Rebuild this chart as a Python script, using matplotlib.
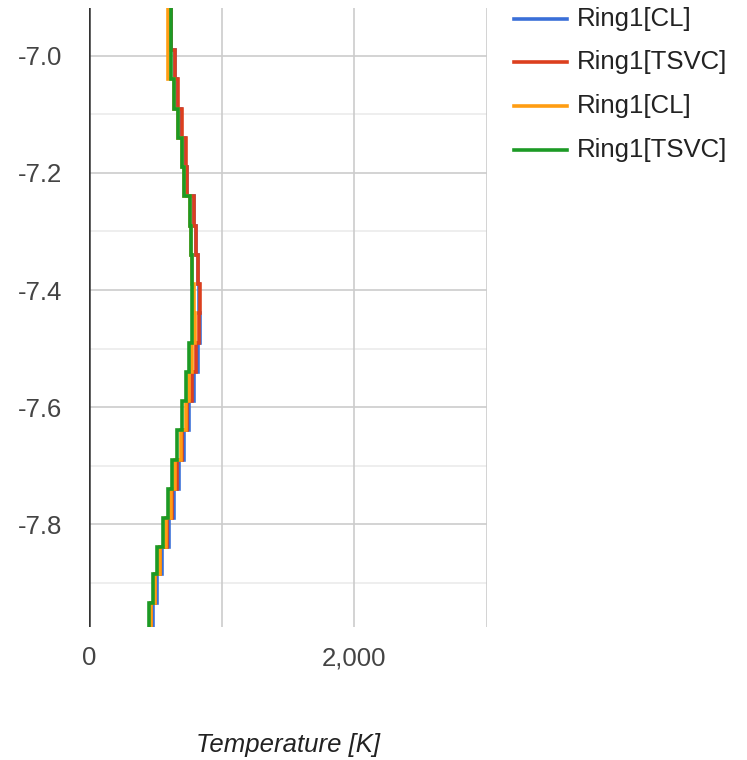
import numpy as np
import matplotlib.pyplot as plt

plt.rcParams['font.family'] = ['Liberation Sans', 'DejaVu Sans']

# depth cell edges (top -> bottom) and cell temperatures [K]
depth_edges = [-6.90, -6.99, -7.04, -7.09, -7.14, -7.19, -7.24, -7.29, -7.34, -7.39, -7.44,
               -7.49, -7.54, -7.59, -7.64, -7.69, -7.74, -7.79, -7.84, -7.885, -7.935, -7.985]
cl_a   = [621, 645, 667, 697, 727, 736, 788, 803, 822, 830, 838,
          820, 790, 755, 715, 675, 640, 600, 550, 515, 485]
tsvc_a = [621, 647, 669, 699, 729, 738, 790, 805, 825, 835, 830,
          805, 775, 740, 700, 660, 625, 585, 535, 500, 470]
cl_b   = [594, 594, 639, 672, 700, 714, 758, 767, 780, 790, 800,
          778, 755, 728, 690, 652, 620, 582, 533, 500, 470]
tsvc_b = [621, 621, 639, 672, 702, 714, 760, 767, 778, 778, 778,
          750, 728, 703, 664, 627, 597, 559, 509, 479, 451]

series = [cl_a, tsvc_a, cl_b, tsvc_b]
names = ["Ring1[CL]", "Ring1[TSVC]", "Ring1[CL]", "Ring1[TSVC]"]
colors = ["#3a6fd8", "#dc3f1e", "#ff9d12", "#1c9a25"]

y_major = [-7.8, -7.6, -7.4, -7.2, -7.0]
y_minor = [-7.9, -7.7, -7.5, -7.3, -7.1]
x_grid = [1000, 2000, 3000]
x_labeled = [0, 2000]

W, H = 747, 760
fig = plt.figure(figsize=(W / 100, H / 100), dpi=100)
ax = fig.add_axes([89 / W, 1 - 627 / H, (487 - 89) / W, (627 - 8) / H])

edges = np.array(depth_edges)
zz = np.column_stack([edges[:-1], edges[1:]]).ravel()
for temps, col, name in zip(series, colors, names):
    ax.plot(np.repeat(temps, 2), zz, color=col, lw=2.6, label=name,
            solid_joinstyle='miter', zorder=3)

ax.set_xlim(0, 3000)
ax.set_ylim(-7.976, -6.918)

# grid
for y in y_major:
    ax.axhline(y, color="#cccccc", lw=1.2, zorder=1)
for y in y_minor:
    ax.axhline(y, color="#ebebeb", lw=1.2, zorder=1)
for x in x_grid:
    ax.axvline(x, color="#cccccc", lw=1.2, zorder=1)
ax.axvline(0, color="#333333", lw=1.8, zorder=2)

for s in ax.spines.values():
    s.set_visible(False)

ax.set_yticks(y_major)
ax.set_yticklabels(["%.1f" % v for v in y_major])
ax.set_xticks(x_labeled)
ax.set_xticklabels(["0", "2,000"])
ax.tick_params(axis='both', length=0, labelsize=18.5, colors="#444444")
ax.tick_params(axis='y', pad=19)
ax.tick_params(axis='x', pad=14)

fig.text(288 / W, 1 - 745 / H, "Temperature [K]", style='italic', fontsize=18.5,
         color="#222222", ha='center', va='center')

# legend
rows = [19, 62, 106, 150]
for yr, col, name in zip(rows, colors, names):
    fig.add_artist(plt.Line2D([514 / W, 567 / W], [1 - yr / H, 1 - yr / H],
                              color=col, lw=2.6, transform=fig.transFigure))
    fig.text(577 / W, 1 - yr / H, name, fontsize=18.5, color="#222222",
             ha='left', va='center')

fig.savefig("out.png", dpi=100)
